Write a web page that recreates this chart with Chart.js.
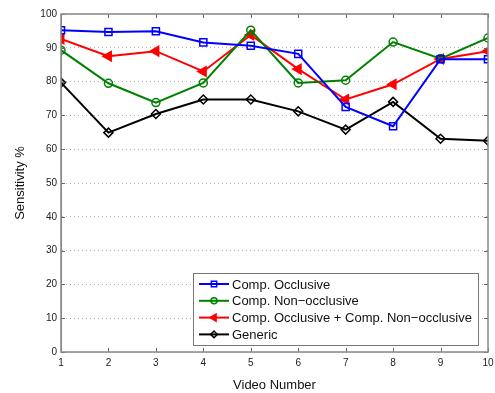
<!DOCTYPE html>
<html>
<head>
<meta charset="utf-8">
<script src="https://cdn.jsdelivr.net/npm/chart.js@4/dist/chart.umd.min.js"></script>
<style>
  html, body { margin: 0; padding: 0; background: #fff; }
  #wrap { width: 495px; height: 393px; }
</style>
</head>
<body>
<div id="wrap"><canvas id="chart" width="495" height="393"></canvas></div>
<script>
// values
const videos = [1, 2, 3, 4, 5, 6, 7, 8, 9, 10];
const compOcclusive = [95.2, 94.7, 94.9, 91.6, 90.6, 88.2, 72.5, 66.8, 86.6, 86.6];
const compNonOcclusive = [89.3, 79.5, 73.8, 79.6, 95.2, 79.6, 80.4, 91.7, 86.8, 92.9];
const compBoth = [92.6, 87.5, 89.0, 83.0, 93.8, 83.7, 74.7, 79.2, 86.7, 89.0];
const generic = [79.7, 64.9, 70.4, 74.7, 74.7, 71.2, 65.8, 74.0, 63.1, 62.5];
const yTicks = [0, 10, 20, 30, 40, 50, 60, 70, 80, 90, 100];

const font = "'Liberation Sans', Arial, sans-serif";

function pts(arr) {
    return arr.map((v, i) => ({ x: videos[i], y: v }));
}

// MATLAB-ish frame with inward ticks, plus the boxed legend
const frame = {
    id: 'frame',
    afterDraw(chart) {
        let ctx = chart.ctx;
        let a = chart.chartArea;
        let xs = chart.scales.x, ys = chart.scales.y;
        ctx.save();
        ctx.strokeStyle = '#666';
        ctx.lineWidth = 1;
        ctx.beginPath();
        videos.forEach(v => {
            let px = Math.round(xs.getPixelForValue(v)) + 0.5;
            ctx.moveTo(px, a.bottom); ctx.lineTo(px, a.bottom - 4);
            ctx.moveTo(px, a.top); ctx.lineTo(px, a.top + 4);
        });
        yTicks.forEach(v => {
            let py = Math.round(ys.getPixelForValue(v)) + 0.5;
            ctx.moveTo(a.left, py); ctx.lineTo(a.left + 4, py);
            ctx.moveTo(a.right, py); ctx.lineTo(a.right - 4, py);
        });
        ctx.stroke();
        ctx.strokeStyle = '#888';
        ctx.lineWidth = 1.5;
        ctx.strokeRect(a.left, a.top, a.right - a.left, a.bottom - a.top);

        // legend box
        let lx = 193.5, ly = 273.5, lw = 285, lh = 72;
        ctx.fillStyle = '#fff';
        ctx.fillRect(lx, ly, lw, lh);
        ctx.strokeStyle = '#777';
        ctx.lineWidth = 1;
        ctx.strokeRect(lx, ly, lw, lh);
        ctx.font = '13px ' + font;
        ctx.textBaseline = 'middle';
        chart.data.datasets.forEach((ds, i) => {
            let y = 284 + i * 16.8;
            ctx.strokeStyle = ds.borderColor;
            ctx.lineWidth = 2;
            ctx.beginPath();
            ctx.moveTo(199, y); ctx.lineTo(229, y);
            ctx.stroke();
            ctx.fillStyle = ds.pointBackgroundColor;
            ctx.strokeStyle = ds.pointBorderColor;
            ctx.lineWidth = 1.5;
            Chart.helpers.drawPoint(ctx, {
                pointStyle: ds.pointStyle,
                rotation: ds.pointRotation || 0,
                radius: ds.pointRadius * 0.75,
                borderWidth: 1.5
            }, 214, y);
            ctx.fillStyle = '#111';
            ctx.fillText(ds.label, 232, y + 1);
        });
        ctx.restore();
    }
};

new Chart(document.getElementById('chart'), {
    type: 'line',
    data: {
        datasets: [
            {
                label: 'Comp. Occlusive',
                data: pts(compOcclusive),
                borderColor: '#0000ff',
                pointStyle: 'rect',
                pointRadius: 5,
                pointBackgroundColor: 'rgba(0,0,0,0)',
                pointBorderColor: '#0000ff'
            },
            {
                label: 'Comp. Non\u2212occlusive',
                data: pts(compNonOcclusive),
                borderColor: '#008000',
                pointStyle: 'circle',
                pointRadius: 4,
                pointBackgroundColor: 'rgba(0,0,0,0)',
                pointBorderColor: '#008000'
            },
            {
                label: 'Comp. Occlusive + Comp. Non\u2212occlusive',
                data: pts(compBoth),
                borderColor: '#ff0000',
                pointStyle: 'triangle',
                pointRotation: -90,
                pointRadius: 5.5,
                pointBackgroundColor: '#ff0000',
                pointBorderColor: '#ff0000'
            },
            {
                label: 'Generic',
                data: pts(generic),
                borderColor: '#000000',
                pointStyle: 'rectRot',
                pointRadius: 4.5,
                pointBackgroundColor: 'rgba(0,0,0,0)',
                pointBorderColor: '#000000'
            }
        ]
    },
    options: {
        responsive: false,
        animation: false,
        layout: { padding: { left: 0, top: 14, right: 7, bottom: 0 } },
        elements: {
            line: { borderWidth: 2, tension: 0 },
            point: { borderWidth: 1.5 }
        },
        plugins: {
            legend: { display: false },
            tooltip: { enabled: false }
        },
        scales: {
            x: {
                type: 'linear',
                min: 1,
                max: 10,
                grid: { display: false, drawTicks: false },
                border: { display: false },
                afterBuildTicks: s => { s.ticks = videos.map(v => ({ value: v })); },
                ticks: {
                    color: '#222',
                    font: { family: font, size: 10 },
                    padding: 5,
                    maxRotation: 0
                },
                title: {
                    display: true,
                    text: 'Video Number',
                    color: '#111',
                    font: { family: font, size: 13 },
                    padding: { top: 10, bottom: 0 }
                },
                afterFit: s => { s.height = 41; s.paddingLeft = 0; s.paddingRight = 0; }
            },
            y: {
                min: 0,
                max: 100,
                grid: {
                    color: '#b4b4b4',
                    drawTicks: false,
                    lineWidth: 1
                },
                border: { display: true, color: '#888', dash: [1, 3] },
                afterBuildTicks: s => { s.ticks = yTicks.map(v => ({ value: v })); },
                ticks: {
                    color: '#222',
                    font: { family: font, size: 10 },
                    padding: 4
                },
                title: {
                    display: true,
                    text: 'Sensitivity %',
                    color: '#111',
                    font: { family: font, size: 13 },
                    padding: { top: 13, bottom: 0 }
                },
                afterFit: s => { s.width = 61; s.paddingTop = 0; s.paddingBottom = 0; }
            }
        }
    },
    plugins: [frame]
});
</script>
</body>
</html>
